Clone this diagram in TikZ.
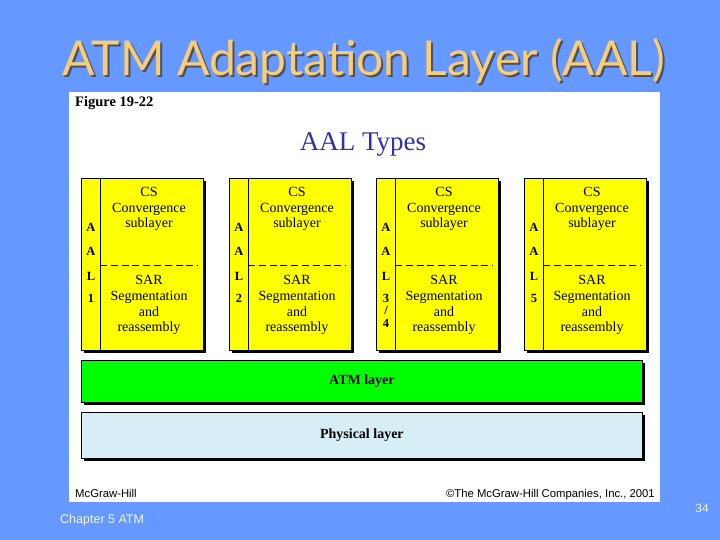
\documentclass[tikz,border=0pt]{standalone}
\usepackage{fontspec}
\setmainfont{Liberation Serif}
\newfontfamily\titlefont{Lato}
\newfontfamily\footfont{Liberation Sans}
\usetikzlibrary{shadows}
\definecolor{slideBlue}{RGB}{102,153,255}
\definecolor{titleGold}{RGB}{250,205,115}
\definecolor{titleShade}{RGB}{70,80,110}
\definecolor{aalYellow}{RGB}{255,255,0}
\definecolor{atmGreen}{RGB}{0,255,0}
\definecolor{phyBlue}{RGB}{215,238,246}
\definecolor{typeBlue}{RGB}{50,50,160}
\tikzset{
  aalbox/.style={draw, line width=0.8pt, fill=aalYellow, anchor=north west,
    minimum width=122pt, minimum height=172pt, inner sep=0pt,
    drop shadow={shadow xshift=3pt, shadow yshift=-3pt, fill=black, opacity=1}},
  layerbox/.style={draw, line width=0.8pt, anchor=north west,
    minimum width=561pt, inner sep=0pt, font=\bfseries\fontsize{14}{16}\selectfont,
    drop shadow={shadow xshift=3pt, shadow yshift=-3pt, fill=black, opacity=1}},
  subtext/.style={align=center, inner sep=0pt, font=\fontsize{14}{15.8}\selectfont},
  aaltag/.style={inner sep=0pt, font=\bfseries\fontsize{12.5}{12.5}\selectfont}
}
\begin{document}
\begin{tikzpicture}[x=1pt,y=-1pt]
  \useasboundingbox (0,0) rectangle (720,540);
  \fill[slideBlue] (0,0) rectangle (720,540);

  % title
  \node[titleShade, font=\titlefont\fontsize{48}{52}\selectfont] at (366,63) {ATM Adaptation Layer (AAL)};
  \node (title) [titleGold, font=\titlefont\fontsize{48}{52}\selectfont] at (364,61) {ATM Adaptation Layer (AAL)};

  % white figure panel
  \fill[white] (69,92) rectangle (660,502);
  \node (fig) [anchor=west, inner sep=0pt, font=\bfseries\fontsize{14.5}{16}\selectfont] at (75,103) {Figure 19-22};
  \node (types) [typeBlue, font=\fontsize{27}{30}\selectfont] at (363,145) {AAL Types};

  % the four AAL types
  \foreach \x/\n/\lbl in {81/1/1, 229/2/2, 376/3/{3\\/\\4}, 524/5/5} {
    \node (aal\n) [aalbox] at (\x,178) {};
    \draw[line width=0.8pt] (\x+19,178) -- (\x+19,350);
    \draw[dashed, dash pattern=on 7pt off 3.8pt, line width=1pt] (\x+19,265) -- (\x+117,265);
    \node[subtext] at (\x+68,209) {CS\\Convergence\\sublayer};
    \node[subtext] at (\x+68,305) {SAR\\Segmentation\\and\\reassembly};
    \node[aaltag] at (\x+10,227) {A};
    \node[aaltag] at (\x+10,251) {A};
    \node[aaltag] at (\x+10,276) {L};
    \node[aaltag, align=center, anchor=north] at (\x+10,294) {\lbl};
  }

  % lower layers
  \node (atm) [layerbox, fill=atmGreen, minimum height=42pt] at (81,360) {ATM layer};
  \node (phy) [layerbox, fill=phyBlue, minimum height=46pt] at (81,412) {Physical layer};

  % footer
  \node[anchor=base west, inner sep=0pt, font=\footfont\fontsize{11.3}{13}\selectfont] at (75,497) {McGraw-Hill};
  \node[anchor=base east, inner sep=0pt, font=\footfont\fontsize{11.3}{13}\selectfont] at (655,497) {©The McGraw-Hill Companies, Inc., 2001};
  \node[anchor=base west, inner sep=0pt, white!90!slideBlue, font=\footfont\fontsize{12.5}{14}\selectfont] at (60,523) {Chapter 5 ATM};
  \node[anchor=base, inner sep=0pt, white!90!slideBlue, font=\footfont\fontsize{12}{14}\selectfont] at (702,512) {34};
\end{tikzpicture}
\end{document}
